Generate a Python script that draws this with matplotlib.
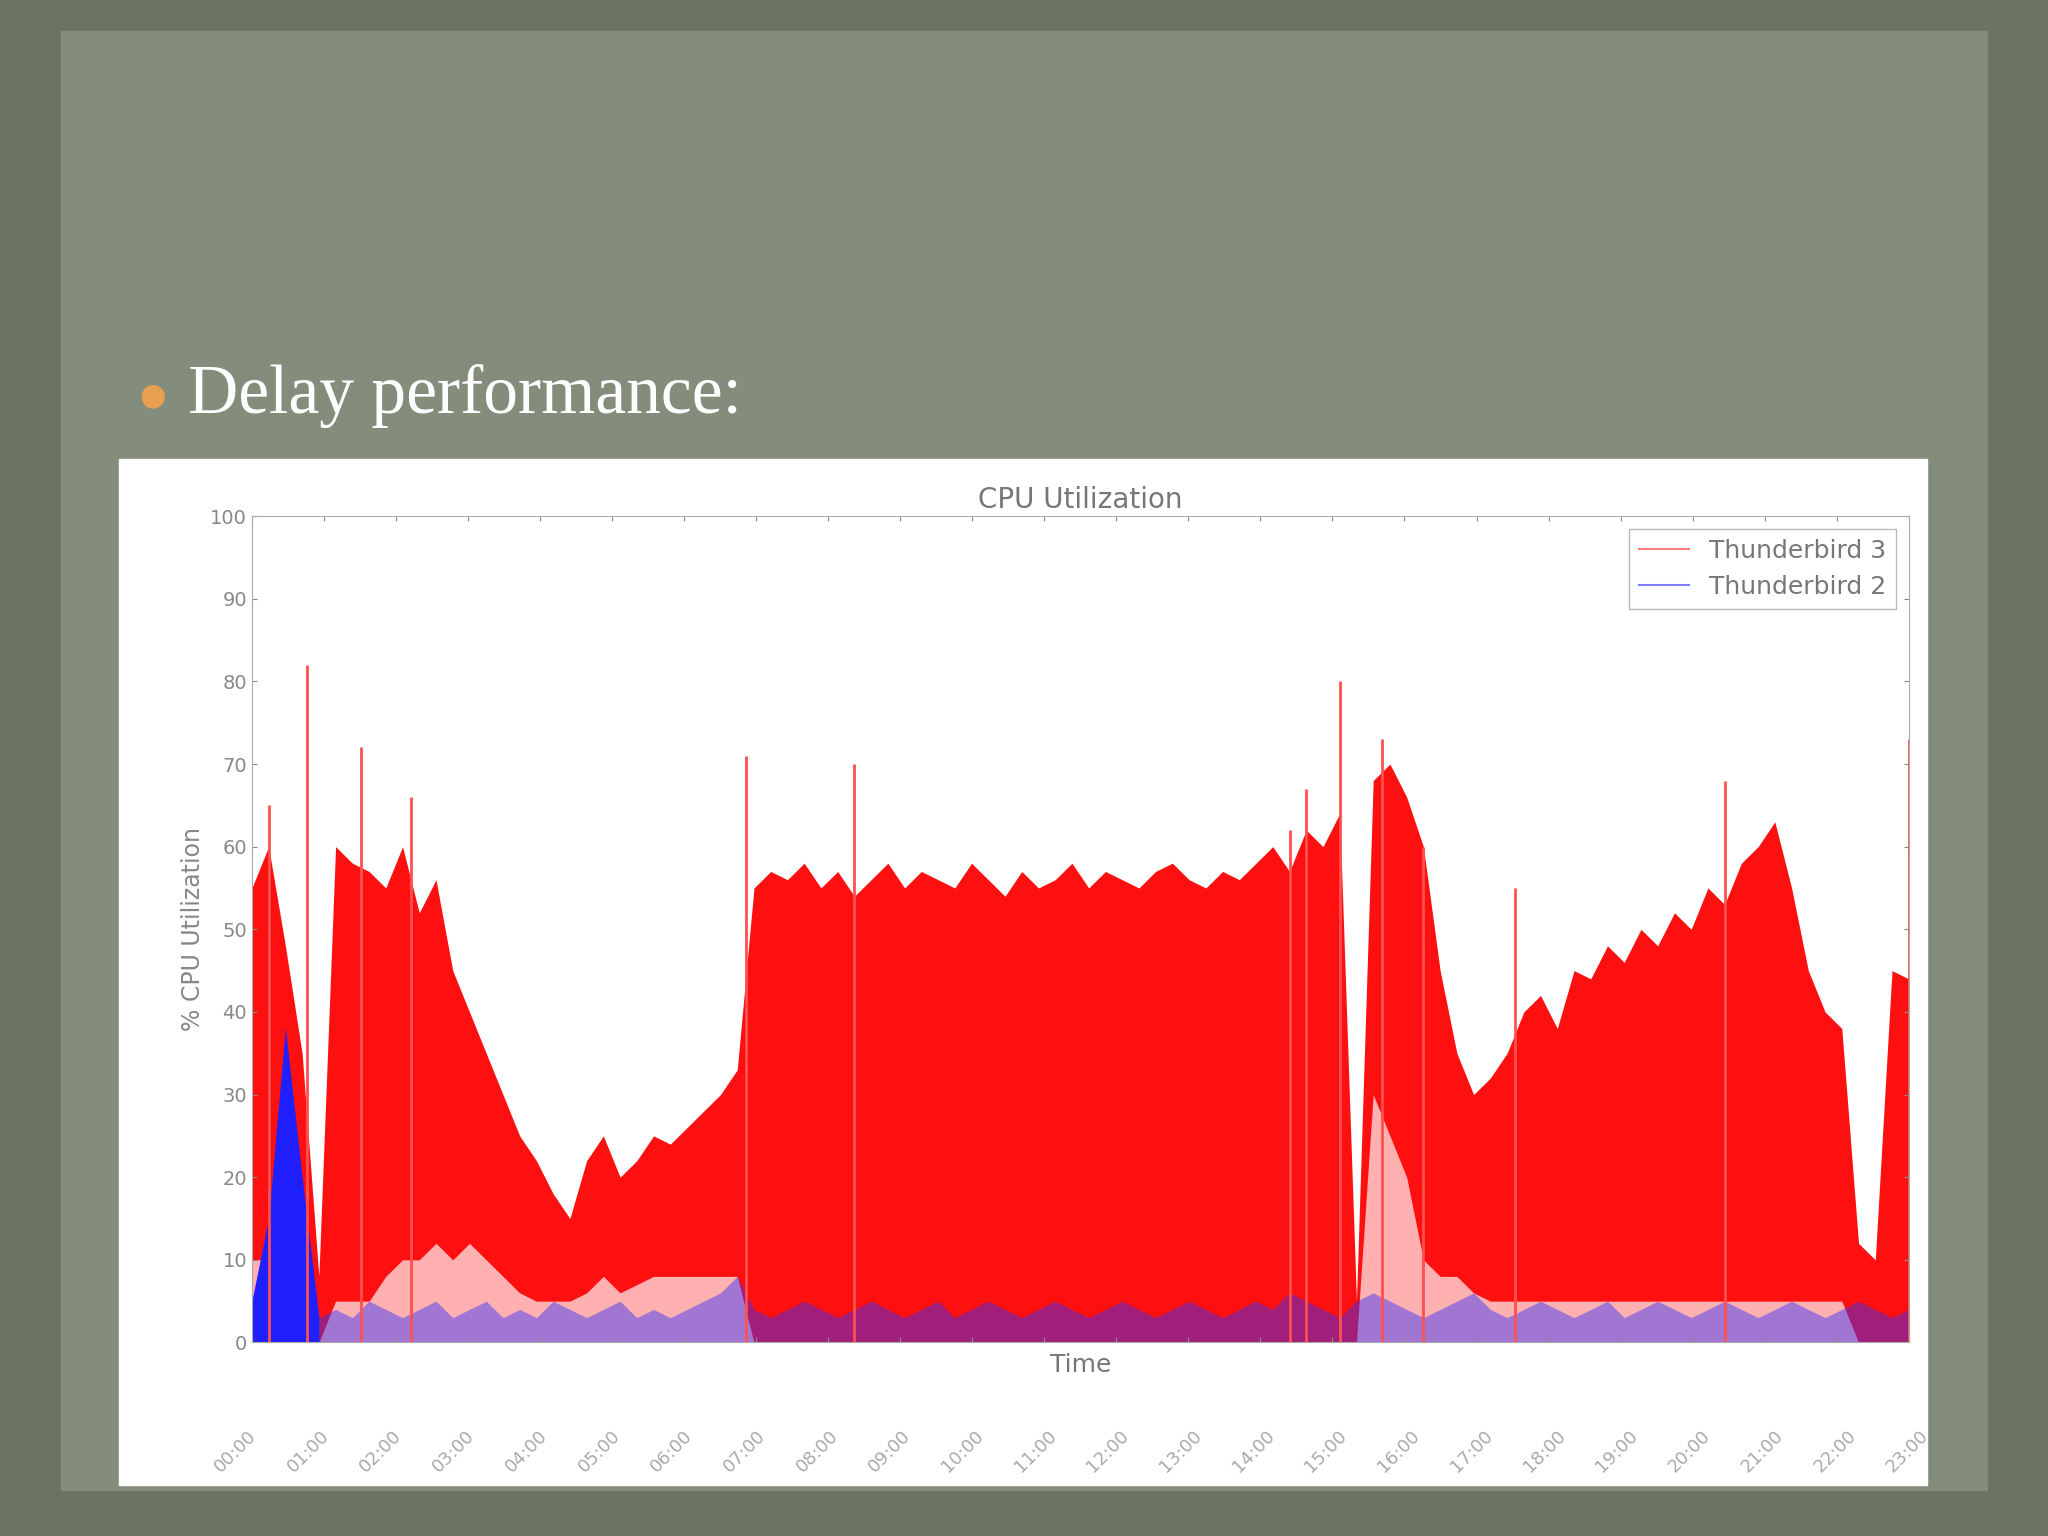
import matplotlib.pyplot as plt
import numpy as np

# Thunderbird 3 CPU envelope (100 samples across the time span)
tb3 = [55, 60, 48, 35, 8, 60, 58, 57, 55, 60, 52, 56, 45, 40, 35, 30, 25, 22, 18, 15,
       22, 25, 20, 22, 25, 24, 26, 28, 30, 33, 55, 57, 56, 58, 55, 57, 54, 56, 58, 55,
       57, 56, 55, 58, 56, 54, 57, 55, 56, 58, 55, 57, 56, 55, 57, 58, 56, 55, 57, 56,
       58, 60, 57, 62, 60, 64, 5, 68, 70, 66, 60, 45, 35, 30, 32, 35, 40, 42, 38, 45,
       44, 48, 46, 50, 48, 52, 50, 55, 53, 58, 60, 63, 55, 45, 40, 38, 12, 10, 45, 44]
# pale lower band where the trace thins out
tb3_pale = [10, 10, 5, 0, 0, 5, 5, 5, 8, 10, 10, 12, 10, 12, 10, 8, 6, 5, 5, 5,
            6, 8, 6, 7, 8, 8, 8, 8, 8, 8, 0, 0, 0, 0, 0, 0, 0, 0, 0, 0,
            0, 0, 0, 0, 0, 0, 0, 0, 0, 0, 0, 0, 0, 0, 0, 0, 0, 0, 0, 0,
            0, 0, 0, 0, 0, 0, 0, 30, 25, 20, 10, 8, 8, 6, 5, 5, 5, 5, 5, 5,
            5, 5, 5, 5, 5, 5, 5, 5, 5, 5, 5, 5, 5, 5, 5, 5, 0, 0, 0, 0]
# occasional tall spikes: (sample, height)
spikes = [(1, 65), (3.3, 82), (6.5, 72), (9.5, 66), (29.5, 71), (36, 70), (62, 62),
          (63, 67), (65, 80), (67.5, 73), (70, 60), (75.5, 55), (88, 68), (99, 73)]
# Thunderbird 2 CPU
tb2 = [5, 15, 38, 20, 3, 4, 3, 5, 4, 3, 4, 5, 3, 4, 5, 3, 4, 3, 5, 4,
       3, 4, 5, 3, 4, 3, 4, 5, 6, 8, 4, 3, 4, 5, 4, 3, 4, 5, 4, 3,
       4, 5, 3, 4, 5, 4, 3, 4, 5, 4, 3, 4, 5, 4, 3, 4, 5, 4, 3, 4,
       5, 4, 6, 5, 4, 3, 5, 6, 5, 4, 3, 4, 5, 6, 4, 3, 4, 5, 4, 3,
       4, 5, 3, 4, 5, 4, 3, 4, 5, 4, 3, 4, 5, 4, 3, 4, 5, 4, 3, 4]
tick_labels = ["%02d:00" % h for h in range(24)]

fig = plt.figure(figsize=(20.48, 15.36), dpi=100)
fig.patch.set_facecolor('#6b7462')
# slide paper
fig.patches.append(plt.Rectangle((0.03, 0.03), 0.94, 0.95, transform=fig.transFigure,
                                 color='#848c7c', zorder=0))
fig.text(0.068, 0.742, '\u25cf', color='#e8a050', fontsize=22, va='center')
fig.text(0.092, 0.742, 'Delay performance:', color='white', fontsize=50,
         family='Liberation Serif', va='center')
fig.patches.append(plt.Rectangle((0.058, 0.033), 0.883, 0.668, transform=fig.transFigure,
                                 color='white', zorder=1))

ax = fig.add_axes([0.123, 0.126, 0.809, 0.538])
ax.set_zorder(2)
x = np.arange(len(tb3))
ax.fill_between(x, 0, tb3, color='#ff1010', lw=0)
ax.fill_between(x, 0, tb3_pale, color='#ffb0b0', lw=0)
for s, h in spikes:
    ax.vlines(s, 0, h, color='#ff5050', lw=2)
ax.fill_between(x, 0, tb2, color='#3030ff', lw=0, alpha=0.45)
ax.fill_between(x[:5], 0, tb2[:5], color='#2020ff', lw=0)
ax.plot([], [], color='#ff8080', label='Thunderbird 3')
ax.plot([], [], color='#8080ff', label='Thunderbird 2')
ax.set_xlim(0, len(tb3) - 1)
ax.set_ylim(0, 100)
ax.set_yticks(range(0, 101, 10))
ax.tick_params(labelsize=14, colors='#888888', direction='in', top=True, right=True)
ax.set_xticks(np.linspace(0, len(tb3) - 1, len(tick_labels)))
ax.set_xticklabels([])
ax.set_title('CPU Utilization', fontsize=20, color='#777777')
ax.set_xlabel('Time', fontsize=18, color='#777777')
ax.set_ylabel('% CPU Utilization', fontsize=17, color='#888888')
for sp in ax.spines.values():
    sp.set_color('#aaaaaa')
ax.legend(loc='upper right', fontsize=18, labelcolor='#777777', framealpha=1,
          edgecolor='#bbbbbb', fancybox=False)
for i, t in enumerate(tick_labels):
    fig.text(0.115 + i * 0.0355, 0.055, t, rotation=45, fontsize=13,
             color='#aaaaaa', ha='center', va='center', zorder=3)

fig.savefig('out.png', dpi=100, facecolor=fig.get_facecolor())
